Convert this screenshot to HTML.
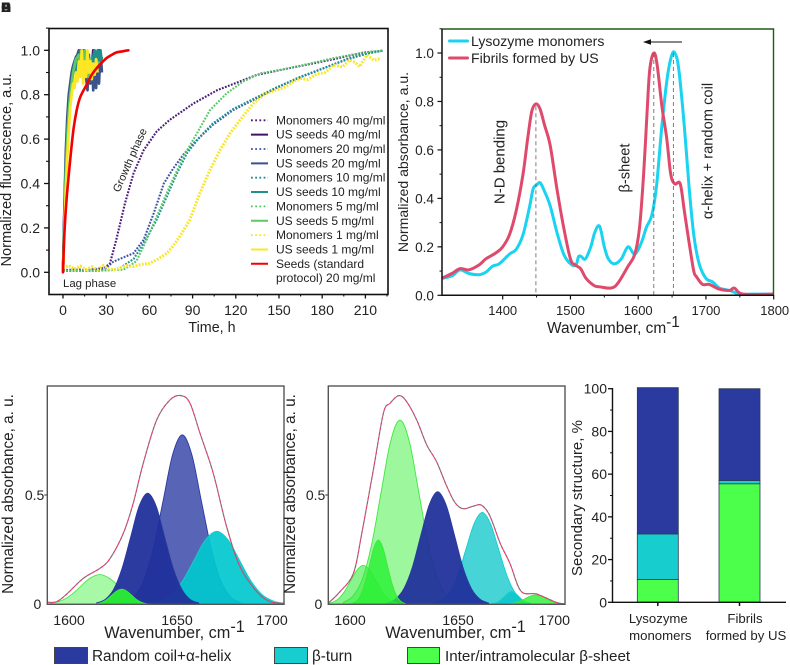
<!DOCTYPE html>
<html lang="en">
<head>
<meta charset="utf-8">
<title>Lysozyme fibrillation figure</title>
<style>
html,body{margin:0;padding:0;background:#fff;width:790px;height:665px;overflow:hidden}
svg{display:block}
text{font-family:"Liberation Sans","DejaVu Sans",sans-serif;fill:#222}
</style>
</head>
<body>
<svg id="fig" xmlns="http://www.w3.org/2000/svg" width="790" height="665" viewBox="0 0 790 665">
  <g font-weight="bold" font-size="14">
    <text x="1" y="12">A</text>
    <text x="1" y="12">B</text>
    <text x="1" y="12">C</text>
    <text x="1" y="12">D</text>
    <text x="1" y="12">E</text>
  </g>
  <g id="a"></g>
  <g id="b"></g>
  <g id="c"></g>
  <g id="d"></g>
  <g id="e"></g>
  <g>
    <rect x="54.5" y="647.5" width="33" height="16" fill="#2a3a9f" stroke="#444"/>
    <text x="92" y="661" font-size="15.3">Random coil+α-helix</text>
    <rect x="274.5" y="647.5" width="33" height="16" fill="#17cdcd" stroke="#444"/>
    <text x="312" y="661" font-size="15.3">β-turn</text>
    <rect x="407.5" y="647.5" width="32" height="16" fill="#4bff4b" stroke="#444"/>
    <text x="445" y="661" font-size="15.2">Inter/intramolecular β-sheet</text>
  </g>
</svg>
<script>
// ---------- Panel A data ----------
const seedTimes = [0,1,2,3,4,5,6,7,8,9,10,11,12,13,14,15,16,17,18,19,20,21,22,23,24,25,26,27];
const seeds40 = [0,.28,.5,.65,.75,.82,.87,.9,.93,.95,.97,.92,1,.9,1,.95,.9,.98,.9,.95,.92,1,.93,.98,.92,1,.95,.97];
const seeds20 = [0,.3,.55,.7,.8,.85,.9,.93,.95,.97,.98,1,.93,1,.92,1,.88,.82,.98,.85,.96,.82,.93,.83,.98,.85,1,.9];
const seeds10 = [0,.25,.47,.62,.72,.8,.85,.9,.94,.9,.97,.93,1,.9,.96,.88,.94,.9,.86,.95,.9,.97,1,.92,1,.95,1,.94];
const seeds5 = [0,.22,.45,.6,.72,.8,.85,.9,.93,.96,.97,.98,.9,1,.94,1,.9,.95,.88,.96,.92,.94,.9,.96,.93,.95];
const seeds1 = [0,.18,.38,.52,.64,.74,.8,.85,.83,.9,.86,.95,.88,1,.85,.95,.88,1,.9,.95,.87,.94,.89,.96,.9];
const redTimes = [0,1,2.5,4.9,7.2,9.5,12,16.4,20,23.4,27,30.3,34,37,41,45.4];
const redValues = [0,.18,.33,.5,.64,.73,.79,.845,.89,.92,.945,.965,.98,.99,.995,1];
const mono40T = [0,10,20,28,32.6,37,43,49,56,65,74,90.5,107,120.6,134.5,153,171.5,188,208.6,222];
const mono40V = [.01,.012,.012,.015,.04,.146,.31,.446,.55,.634,.686,.76,.82,.854,.889,.914,.938,.96,.99,.998];
const mono20T = [0,15,30,35,49,56,63,70,76.6,83.6,93,104,118,134.5,148,164.6,181,197,211,222];
const mono20V = [.008,.01,.02,.048,.086,.146,.266,.4,.468,.53,.596,.664,.73,.784,.83,.878,.919,.96,.986,.998];
const mono10T = [0,20,38,49,56,65,72,78,86,95,104,118,134.5,148,164.6,181,197,211,222];
const mono10V = [.006,.006,.012,.06,.13,.236,.34,.43,.536,.61,.67,.735,.788,.832,.88,.92,.958,.985,.998];
const mono5T = [0,20,42,51,58,65,74,83.6,93,102,113.6,125,137,153,171.5,188,211,222];
const mono5V = [.008,.006,.012,.05,.146,.25,.386,.52,.626,.73,.806,.859,.896,.914,.94,.965,.992,.998];
const mono1T = [0,4,8,12,16,20,24,28,32,36,40,44,49,54,60,66,72,76,81,88,95,102,109,116,123,132,141,147,153,159,164.6,170,176,182,188,194,199,203,206,211,216,221];
const mono1V = [.02,.03,.015,.028,.012,.025,.012,.03,.015,.012,.02,.03,.026,.035,.04,.06,.085,.115,.16,.236,.356,.46,.55,.626,.686,.76,.806,.82,.83,.855,.874,.868,.893,.9,.934,.925,.956,.945,.926,.979,.955,.964];
const legendLabels = ["Monomers 40 mg/ml","US seeds 40 mg/ml","Monomers 20 mg/ml","US seeds 20 mg/ml","Monomers 10 mg/ml","US seeds 10 mg/ml","Monomers 5 mg/ml","US seeds 5 mg/ml","Monomers 1 mg/ml","US seeds 1 mg/ml","Seeds (standard","protocol) 20 mg/ml"];
const timeTicks = [0,30,60,90,120,150,180,210];
const fluorTicks = [0,.2,.4,.6,.8,1];
// ---------- Panel B data ----------
const cyanW = [1310,1325,1337,1350,1365,1375,1385,1395,1410,1420,1430,1440,1445,1450,1455,1460,1470,1480,1490,1500,1508,1512,1516,1522,1530,1536,1543,1550,1556,1565,1575,1585,1595,1605,1612,1620,1627,1635,1643,1650,1655,1660,1668,1675,1682,1690,1700,1710,1720,1735,1750,1770,1800];
const cyanV = [.07,.08,.105,.09,.085,.095,.12,.13,.17,.19,.25,.37,.44,.455,.465,.44,.37,.26,.17,.13,.125,.16,.16,.15,.2,.26,.285,.2,.15,.13,.15,.2,.17,.22,.28,.33,.45,.7,.9,.995,.995,.93,.7,.45,.25,.13,.07,.055,.03,.02,.005,.005,.005];
const fibW = [1310,1325,1337,1350,1365,1375,1390,1400,1410,1420,1430,1437,1443,1449,1455,1462,1470,1480,1490,1500,1507,1515,1523,1535,1543,1560,1570,1585,1595,1602,1608,1613,1617,1623,1628,1635,1642,1648,1654,1662,1668,1675,1682,1686,1695,1705,1720,1735,1742,1755,1800];
const fibV = [.07,.09,.11,.105,.125,.15,.175,.2,.25,.35,.5,.65,.76,.79,.77,.7,.62,.44,.28,.15,.125,.11,.07,.04,.035,.03,.05,.12,.17,.28,.5,.75,.93,1,.95,.78,.65,.5,.46,.46,.35,.22,.1,.077,.045,.045,.025,.02,.03,.005,.005];
const peakMarkers = [1449,1623,1652];
const waveTicks = [1400,1500,1600,1700,1800];
const absTicks = [0,.2,.4,.6,.8,1];
// ---------- Panel C data ----------
const cEnvW = [1590,1594.5,1599.3,1607.2,1615.2,1620,1626.3,1631,1635.8,1642.2,1648.6,1653.8,1658.1,1662.9,1669.2,1675.6,1682,1690,1696.3,1703];
const cEnvV = [.009,.012,.047,.119,.165,.21,.325,.462,.645,.843,.935,.955,.92,.782,.6,.355,.172,.058,.012,.005];
const cSheet1W = [1590,1592.5,1597,1601.5,1606,1610.5,1615,1619.5,1624,1628.5,1633,1637.5,1642];
const cSheet1V = [.001,.006,.018,.044,.083,.12,.136,.12,.083,.044,.018,.006,.001];
const cSheet2W = [1611.4,1613.75,1616.1,1618.45,1620.8,1623.15,1625.5,1627.85,1630.2,1632.55,1634.9,1637.25,1639.6];
const cSheet2V = [.001,.003,.009,.022,.042,.061,.069,.061,.042,.022,.009,.003,.001];
const cCoil1W = [1613.5,1617.6,1621.7,1625.7,1629.8,1633.8,1637.9,1642,1646,1650.1,1654.2,1658.2,1662.3];
const cCoil1V = [.006,.022,.069,.165,.308,.448,.508,.448,.308,.165,.069,.022,.006];
const cCoil2W = [1626.7,1631.3,1635.9,1640.5,1645.2,1649.8,1654.4,1659,1663.6,1668.3,1672.9,1677.5,1682.1];
const cCoil2V = [.009,.034,.105,.252,.47,.684,.775,.684,.47,.252,.105,.034,.009];
const cTurnW = [1638.5,1643.9,1649.3,1654.7,1660.1,1665.5,1670.9,1676.3,1681.7,1687.1,1692.5,1697.9,1703];
const cTurnV = [.004,.015,.045,.109,.203,.295,.334,.295,.203,.109,.045,.015,.004];
// ---------- Panel D data ----------
const dEnvW = [1590,1595.6,1602,1605.9,1611.5,1616.3,1619.5,1623.7,1627.4,1632.2,1637,1641.7,1646.5,1650.5,1654.4,1659.2,1663.2,1667.2,1672,1676.7,1682,1689.5,1699,1703];
const dEnvV = [.005,.058,.142,.32,.615,.874,.92,.955,.927,.843,.729,.652,.541,.465,.437,.449,.453,.403,.28,.187,.06,.047,.008,.003];
const dSheetAW = [1590,1591.7,1594.7,1597.7,1600.7,1603.7,1606.7,1609.7,1612.7,1615.7,1618.7,1621.7,1624.7];
const dSheetAV = [.002,.008,.024,.058,.108,.157,.178,.157,.108,.058,.024,.008,.002];
const dSheetBW = [1601,1603.15,1605.3,1607.45,1609.6,1611.75,1613.9,1616.05,1618.2,1620.35,1622.5,1624.65,1626.8];
const dSheetBV = [.003,.013,.04,.096,.178,.259,.294,.259,.178,.096,.04,.013,.003];
const dSheetCW = [1597.2,1601.7,1606.2,1610.7,1615.2,1619.7,1624.2,1628.7,1633.2,1637.7,1642.2,1646.7,1651.2];
const dSheetCV = [.009,.037,.114,.274,.512,.744,.843,.744,.512,.274,.114,.037,.009];
const dCoilW = [1617.9,1621.95,1626,1630.05,1634.1,1638.15,1642.2,1646.25,1650.3,1654.35,1658.4,1662.45,1666.5];
const dCoilV = [.006,.023,.07,.167,.313,.454,.515,.454,.313,.167,.07,.023,.006];
const dTurn1W = [1640.4,1644.25,1648.1,1651.95,1655.8,1659.65,1663.5,1667.35,1671.2,1675.05,1678.9,1682.75,1686.6];
const dTurn1V = [.005,.018,.057,.137,.255,.37,.42,.37,.255,.137,.057,.018,.005];
const dTurn2W = [1667,1668.75,1670.5,1672.25,1674,1675.75,1677.5,1679.25,1681,1682.75,1684.5,1686.25,1688];
const dTurn2V = [.001,.003,.008,.019,.035,.051,.058,.051,.035,.019,.008,.003,.001];
const dSheetDW = [1674,1676.5,1679,1681.5,1684,1686.5,1689,1691.5,1694,1696.5,1699,1701.5,1703];
const dSheetDV = [0,.002,.006,.014,.026,.038,.043,.038,.026,.014,.006,.002,0];
// ---------- Panel E data ----------
const barCategories = ["Lysozyme monomers","Fibrils formed by US"];
const barSheet = [10.7,55.5];
const barTurn = [21.3,1.5];
const barCoil = [68.5,43];
const pctTicks = [0,20,40,60,80,100];

const NS = 'http://www.w3.org/2000/svg';
function add(parent, tag, attrs, name, text) {
  const el = document.createElementNS(NS, tag);
  for (const k in attrs) el.setAttribute(k, attrs[k]);
  
  
  if (text !== undefined) el.textContent = text;
  parent.appendChild(el);
  return el;
}
function poly(xs, ys, fx, fy) {
  return xs.map((x, i) => (i ? 'L' : 'M') + fx(x).toFixed(2) + ' ' + fy(ys[i]).toFixed(2)).join('');
}
function smooth(xs, ys, fx, fy) {
  const p = xs.map((x, i) => [fx(x), fy(ys[i])]);
  let d = 'M' + p[0][0].toFixed(2) + ' ' + p[0][1].toFixed(2);
  for (let i = 0; i < p.length - 1; i++) {
    const a = p[Math.max(i - 1, 0)], b = p[i], c = p[i + 1], e = p[Math.min(i + 2, p.length - 1)];
    const c1x = b[0] + (c[0] - a[0]) / 6, c1y = b[1] + (c[1] - a[1]) / 6;
    const c2x = c[0] - (e[0] - b[0]) / 6, c2y = c[1] - (e[1] - b[1]) / 6;
    d += 'C' + c1x.toFixed(2) + ' ' + c1y.toFixed(2) + ' ' + c2x.toFixed(2) + ' ' + c2y.toFixed(2) + ' ' + c[0].toFixed(2) + ' ' + c[1].toFixed(2);
  }
  return d;
}
function vtext(parent, x, y, size, str, name) {
  return add(parent, 'text', {x: x, y: y, 'font-size': size, 'text-anchor': 'middle', transform: 'rotate(-90 ' + x + ' ' + y + ')'}, name, str);
}
function cmLabel(parent, x, y, size, name) {
  const t = add(parent, 'text', {x: x, y: y, 'font-size': size}, name, 'Wavenumber, cm');
  const s = document.createElementNS(NS, 'tspan');
  s.setAttribute('dy', -6);
  s.textContent = '-1';
  t.appendChild(s);
}

// ---------- Panel A ----------
(function () {
  const g = document.getElementById('a');
  const x = t => 63 + t * 1.44;
  const y = v => 272.3 - 222 * v;
  const seq = [
    ['monomers-40-line', mono40T, mono40V, '#4b1a78', 1],
    ['seeds-40-line', seedTimes, seeds40, '#440f6e', 0],
    ['monomers-20-line', mono20T, mono20V, '#3b54a4', 1],
    ['seeds-20-line', seedTimes, seeds20, '#3b528b', 0],
    ['monomers-10-line', mono10T, mono10V, '#1f8c96', 1],
    ['seeds-10-line', seedTimes, seeds10, '#21908d', 0],
    ['monomers-5-line', mono5T, mono5V, '#55c667', 1],
    ['seeds-5-line', seedTimes, seeds5, '#5ec962', 0],
    ['monomers-1-line', mono1T, mono1V, '#f7e62a', 1],
    ['seeds-1-line', seedTimes, seeds1, '#fde725', 0]
  ];
  seq.forEach(s => {
    const n = Math.min(s[1].length, s[2].length);
    const xs = s[1].slice(0, n), ys = s[2].slice(0, n);
    if (s[4]) {
      const w = s[0] === 'monomers-1-line' ? 3 : 2.1;
      add(g, 'path', {d: poly(xs, ys, x, y), fill: 'none', stroke: s[3], 'stroke-width': w, 'stroke-dasharray': '1.8 1.4'}, s[0]);
    } else {
      add(g, 'path', {d: poly(xs, ys, x, y), fill: 'none', stroke: s[3], 'stroke-width': 2.7, 'stroke-linejoin': 'round'}, s[0]);
    }
  });
  add(g, 'path', {d: smooth(redTimes, redValues, x, y), fill: 'none', stroke: '#f40000', 'stroke-width': 2.6, 'stroke-linecap': 'round'}, 'seeds-standard-line');
  add(g, 'rect', {x: 49, y: 28.5, width: 339, height: 266, fill: 'none', stroke: '#111', 'stroke-width': 1.6}, 'kinetics-plot-frame');
  timeTicks.forEach(t => {
    add(g, 'line', {x1: x(t), x2: x(t), y1: 294, y2: 298.5, stroke: '#111', 'stroke-width': 1.3}, 'x-tick');
    add(g, 'line', {x1: x(t + 15), x2: x(t + 15), y1: 294, y2: 296.5, stroke: '#111', 'stroke-width': 1.1}, 'x-minor-tick');
    add(g, 'text', {x: x(t), y: 315, 'font-size': 14, 'text-anchor': 'middle'}, 'x-tick-label', String(t));
  });
  fluorTicks.forEach(v => {
    add(g, 'line', {x1: 44, x2: 49, y1: y(v), y2: y(v), stroke: '#111', 'stroke-width': 1.3}, 'y-tick');
    add(g, 'line', {x1: 46, x2: 49, y1: y(v + .1), y2: y(v + .1), stroke: '#111', 'stroke-width': 1.1}, 'y-minor-tick');
    add(g, 'text', {x: 40, y: y(v) + 5, 'font-size': 14, 'text-anchor': 'end'}, 'y-tick-label', v.toFixed(1));
  });
  add(g, 'text', {x: 212, y: 332, 'font-size': 14.3, 'text-anchor': 'middle'}, 'x-axis-title', 'Time, h');
  vtext(g, 11, 170, 14.6, 'Normalized fluorescence, a.u.', 'y-axis-title');
  add(g, 'text', {x: 63, y: 287, 'font-size': 11.4}, 'lag-phase-label', 'Lag phase');
  add(g, 'text', {x: 129.5, y: 164, 'font-size': 11, 'text-anchor': 'middle', transform: 'rotate(-66 129.5 160)'}, 'growth-phase-label', 'Growth phase');
  const lg = add(g, 'g', {}, 'kinetics-legend');
  const colors = ['#4b1a78', '#440f6e', '#3b54a4', '#3b528b', '#1f8c96', '#21908d', '#55c667', '#5ec962', '#f7e62a', '#fde725', '#f40000'];
  legendLabels.forEach((lab, i) => {
    const ry = 120.3 + 14.35 * i;
    if (i < colors.length) {
      const attrs = {x1: 251, x2: 268, y1: ry, y2: ry, stroke: colors[i], 'stroke-width': i % 2 || i === 10 ? 2 : 1.8};
      if (!(i % 2) && i !== 10) attrs['stroke-dasharray'] = '1.8 2.4';
      add(lg, 'line', attrs, 'legend-line');
    }
    add(lg, 'text', {x: 276, y: ry + 4, 'font-size': 12}, 'legend-label', lab);
  });
})();

// ---------- Panel B ----------
(function () {
  const g = document.getElementById('b');
  const x = w => 502.7 + (w - 1400) * 0.6775;
  const y = v => 295.3 - 242.3 * v;
  add(g, 'path', {d: smooth(cyanW, cyanV, x, y), fill: 'none', stroke: '#19d3f0', 'stroke-width': 3}, 'lysozyme-monomers-line');
  add(g, 'path', {d: smooth(fibW, fibV, x, y), fill: 'none', stroke: '#df4a6c', 'stroke-width': 3}, 'fibrils-line');
  peakMarkers.forEach(w => {
    const top = w === 1449 ? .78 : 1;
    add(g, 'line', {x1: x(w), x2: x(w), y1: y(top), y2: y(0), stroke: '#666', 'stroke-width': 1, 'stroke-dasharray': '4 3', opacity: .85}, 'peak-marker-line');
  });
  add(g, 'path', {d: 'M442 29H773.5V295', fill: 'none', stroke: '#1f5a14', 'stroke-width': 1.4}, 'spectra-frame-top-right');
  add(g, 'path', {d: 'M442 29V295.3H773.5', fill: 'none', stroke: '#111', 'stroke-width': 1.5}, 'spectra-frame-left-bottom');
  waveTicks.forEach(w => {
    add(g, 'line', {x1: x(w), x2: x(w), y1: 295, y2: 299.5, stroke: '#111', 'stroke-width': 1.2}, 'x-tick');
    if (w > 1400) add(g, 'line', {x1: x(w - 50), x2: x(w - 50), y1: 295, y2: 297.5, stroke: '#111'}, 'x-minor-tick');
    add(g, 'text', {x: x(w) + (w === 1800 ? 1 : 0), y: 315, 'font-size': 13, 'text-anchor': 'middle'}, 'x-tick-label', String(w));
  });
  absTicks.forEach(v => {
    add(g, 'line', {x1: 437.5, x2: 442, y1: y(v), y2: y(v), stroke: '#111', 'stroke-width': 1.2}, 'y-tick');
    add(g, 'line', {x1: 439.5, x2: 442, y1: y(v + .1), y2: y(v + .1), stroke: '#111'}, 'y-minor-tick');
    add(g, 'text', {x: 434, y: y(v) + 5, 'font-size': 13.6, 'text-anchor': 'end'}, 'y-tick-label', v.toFixed(1));
  });
  cmLabel(g, 547, 333, 15.4, 'x-axis-title');
  vtext(g, 408, 162, 14.1, 'Normalized absorbance, a.u.', 'y-axis-title');
  add(g, 'line', {x1: 449.5, x2: 467.5, y1: 41, y2: 41, stroke: '#19d3f0', 'stroke-width': 3, 'stroke-linecap': 'round'}, 'legend-line-monomers');
  add(g, 'line', {x1: 449.5, x2: 467.5, y1: 58, y2: 58, stroke: '#df4a6c', 'stroke-width': 3, 'stroke-linecap': 'round'}, 'legend-line-fibrils');
  add(g, 'text', {x: 471, y: 46, 'font-size': 14.1}, 'legend-label-monomers', 'Lysozyme monomers');
  add(g, 'text', {x: 471, y: 63, 'font-size': 14.1}, 'legend-label-fibrils', 'Fibrils formed by US');
  add(g, 'path', {d: 'M682 42H646', stroke: '#111', 'stroke-width': 1.1, fill: 'none'}, 'shift-arrow-shaft');
  add(g, 'path', {d: 'M643 42L651 39.2V44.8Z', fill: '#111'}, 'shift-arrow-head');
  vtext(g, 504.5, 162, 15, 'N-D bending', 'nd-bending-label');
  vtext(g, 629.5, 168, 14.6, 'β-sheet', 'beta-sheet-label');
  vtext(g, 712.5, 151, 14.7, 'α-helix + random coil', 'alpha-helix-label');
})();

// ---------- Panels C & D ----------
function deconv(id, left, peaks, env, labels, yTitleX) {
  const g = document.getElementById(id);
  const x = w => left + (w - 1590) * 2.095;
  const y = v => 604.3 - 218.6 * v;
  peaks.forEach(p => {
    const d = smooth(p.w, p.v, x, y) + 'L' + x(p.w[p.w.length - 1]).toFixed(2) + ' ' + y(0) + 'L' + x(p.w[0]).toFixed(2) + ' ' + y(0) + 'Z';
    add(g, 'path', {d: d, fill: p.fill, stroke: p.stroke, 'stroke-width': .9}, p.name);
  });
  add(g, 'path', {d: smooth(env[0], env[1], x, y), fill: 'none', stroke: '#777', 'stroke-width': 1.1}, 'fit-envelope-line');
  add(g, 'path', {d: smooth(env[0], env[1], x, y), fill: 'none', stroke: '#ee3c70', 'stroke-width': 1.1, 'stroke-dasharray': '3 2'}, 'measured-spectrum-line');
  add(g, 'rect', {x: left, y: 386, width: 236.7, height: 218.3, fill: 'none', stroke: '#555', 'stroke-width': 1.4}, 'plot-frame');
  add(g, 'line', {x1: left - 3, x2: left, y1: y(.5), y2: y(.5), stroke: '#444', 'stroke-width': 1.1}, 'y-tick-half');
  add(g, 'text', {x: left - 3, y: 500, 'font-size': 14, 'text-anchor': 'end'}, 'y-tick-label-half', '0.5');
  add(g, 'text', {x: left - 6, y: 609, 'font-size': 14, 'text-anchor': 'end'}, 'y-tick-label-zero', '0');
  add(g, 'text', {x: left + 21.7, y: 625, 'font-size': 14.2, 'text-anchor': 'middle'}, 'x-tick-label', '1600');
  add(g, 'text', {x: left + 129.7, y: 625, 'font-size': 14.2, 'text-anchor': 'middle'}, 'x-tick-label', '1650');
  add(g, 'text', {x: left + labels, y: 625, 'font-size': 14.2, 'text-anchor': 'middle'}, 'x-tick-label', '1700');
  cmLabel(g, left + 57, 638, 16.3, 'x-axis-title');
  vtext(g, yTitleX, 494, 15.3, 'Normalized absorbance, a. u.', 'y-axis-title');
}
deconv('c', 47.3, [
  {name: 'sheet-peak-large', w: cSheet1W, v: cSheet1V, fill: 'rgba(60,240,60,.45)', stroke: '#4be84b'},
  {name: 'coil-peak-right', w: cCoil2W, v: cCoil2V, fill: 'rgba(41,58,163,.78)', stroke: '#2a3a9f'},
  {name: 'turn-peak', w: cTurnW, v: cTurnV, fill: 'rgba(0,200,205,.92)', stroke: '#17cdcd'},
  {name: 'coil-peak-left', w: cCoil1W, v: cCoil1V, fill: 'rgba(32,48,155,.95)', stroke: '#2a3a9f'},
  {name: 'sheet-peak-small', w: cSheet2W, v: cSheet2V, fill: 'rgba(40,238,50,.95)', stroke: '#3cec3c'}
], [cEnvW, cEnvV], 224.7, 13);
deconv('d', 328.3, [
  {name: 'sheet-peak-main', w: dSheetCW, v: dSheetCV, fill: 'rgba(60,240,60,.5)', stroke: '#3ee83e'},
  {name: 'turn-peak-main', w: dTurn1W, v: dTurn1V, fill: 'rgba(0,195,200,.72)', stroke: '#17cdcd'},
  {name: 'coil-peak', w: dCoilW, v: dCoilV, fill: 'rgba(32,48,155,.94)', stroke: '#2a3a9f'},
  {name: 'sheet-peak-a', w: dSheetAW, v: dSheetAV, fill: 'rgba(40,235,50,.55)', stroke: '#3ee83e'},
  {name: 'sheet-peak-b', w: dSheetBW, v: dSheetBV, fill: 'rgba(40,240,50,.8)', stroke: '#3ee83e'},
  {name: 'turn-peak-minor', w: dTurn2W, v: dTurn2V, fill: 'rgba(0,195,200,.72)', stroke: '#17cdcd'},
  {name: 'sheet-peak-d', w: dSheetDW, v: dSheetDV, fill: 'rgba(40,240,50,.8)', stroke: '#3ee83e'}
], [dEnvW, dEnvV], 226, 295);

// ---------- Panel E ----------
(function () {
  const g = document.getElementById('e');
  const y = v => 602.3 - 2.136 * v;
  const h = v => 2.136 * v;
  const bx = i => 637.3 + i * 81.7;
  const lines = [['Lysozyme', 'monomers'], ['Fibrils', 'formed by US']];
  barCategories.forEach((cat, i) => {
    let base = 0;
    [[barSheet, '#4bff4b', 'sheet'], [barTurn, '#17cdcd', 'turn'], [barCoil, '#2a3a9f', 'coil']].forEach(s => {
      const v = s[0][i];
      add(g, 'rect', {x: bx(i), y: y(base + v), width: 41, height: h(v), fill: s[1], stroke: '#2b3b55', 'stroke-width': .8}, 'bar-' + s[2] + '-' + (i + 1));
      base += v;
    });
    add(g, 'line', {x1: bx(i) + 20.5, x2: bx(i) + 20.5, y1: 602, y2: 606, stroke: '#111', 'stroke-width': 1.5}, 'x-tick');
    add(g, 'text', {x: bx(i) + 21 + i * 5, y: 623, 'font-size': 13.2, 'text-anchor': 'middle'}, 'category-label', lines[i][0]);
    add(g, 'text', {x: bx(i) + 23 + i * 4, y: 640, 'font-size': 13.2, 'text-anchor': 'middle'}, 'category-label', lines[i][1]);
  });
  add(g, 'path', {d: 'M612.5 388V602.3H786', fill: 'none', stroke: '#111', 'stroke-width': 1.4}, 'bar-axes');
  pctTicks.forEach(v => {
    add(g, 'line', {x1: 608, x2: 612.5, y1: y(v), y2: y(v), stroke: '#111', 'stroke-width': 1.3}, 'y-tick');
    if (v < 100) add(g, 'line', {x1: 610, x2: 612.5, y1: y(v + 10), y2: y(v + 10), stroke: '#111'}, 'y-minor-tick');
    add(g, 'text', {x: 607, y: y(v) + 5, 'font-size': 14, 'text-anchor': 'end'}, 'y-tick-label', String(v));
  });
  vtext(g, 582, 498, 15, 'Secondary structure, %', 'y-axis-title');
})();
</script>
</body>
</html>
